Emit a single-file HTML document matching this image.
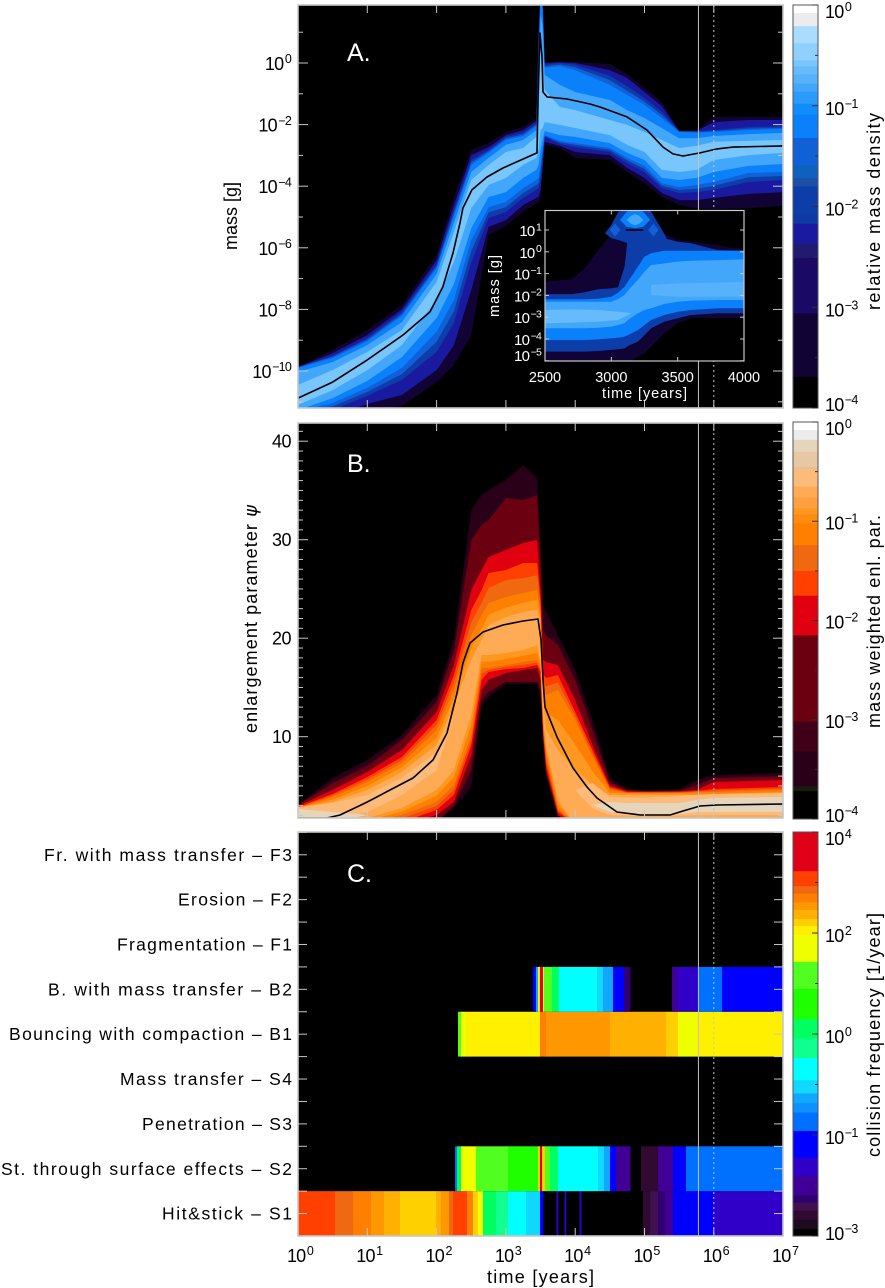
<!DOCTYPE html>
<html lang="en">
<head>
<meta charset="utf-8">
<title>Dust evolution panels</title>
<style>
html,body{margin:0;padding:0;background:#fff;}
svg{display:block;font-family:"Liberation Sans",sans-serif;}
</style>
</head>
<body>
<svg id="figure" xmlns="http://www.w3.org/2000/svg" width="885" height="1288" viewBox="0 0 885 1288">
  <defs>
    <clipPath id="clip-a"><rect x="298" y="5" width="485" height="403"/></clipPath>
    <clipPath id="clip-b"><rect x="298" y="423" width="485" height="395"/></clipPath>
    <clipPath id="clip-c"><rect x="298" y="832" width="485" height="404"/></clipPath>
    <clipPath id="clip-inset"><rect x="545" y="210.500" width="199" height="150.500"/></clipPath>
  </defs>
  <rect x="298" y="5" width="485" height="403" fill="#000"/>
  <rect x="298" y="423" width="485" height="395" fill="#000"/>
  <rect x="298" y="832" width="485" height="404" fill="#000"/>
  <g id="heat-a" clip-path="url(#clip-a)"></g>
  <g id="heat-b" clip-path="url(#clip-b)"></g>
  <g id="heat-c" clip-path="url(#clip-c)"></g>
  <g id="overlay"></g>
  <g id="inset"></g>
  <g id="bars"></g>
  <g id="labels" fill="#000"></g>

  <text x="347" y="61" font-size="25" fill="#fff">A.</text>
  <text x="347" y="472" font-size="25" fill="#fff">B.</text>
  <text x="347" y="882" font-size="25" fill="#fff">C.</text>

  <text font-size="18" transform="translate(237,250) rotate(-90)" textLength="68" lengthAdjust="spacing">mass [g]</text>
  <text font-size="18" transform="translate(257,733) rotate(-90)" textLength="228" lengthAdjust="spacing">enlargement parameter <tspan font-style="italic" font-family="'DejaVu Sans',sans-serif">ψ</tspan></text>
  <text font-size="18" x="487" y="1283" textLength="107" lengthAdjust="spacing">time [years]</text>

  <text font-size="18" transform="translate(880,310) rotate(-90)" textLength="197" lengthAdjust="spacing">relative mass density</text>
  <text font-size="18" transform="translate(880,728) rotate(-90)" textLength="213" lengthAdjust="spacing">mass weighted enl. par.</text>
  <text font-size="18" transform="translate(880,1157) rotate(-90)" textLength="244" lengthAdjust="spacing">collision frequency [1/year]</text>

  <text font-size="14.500" fill="#fff" x="602" y="398" textLength="85" lengthAdjust="spacing">time [years]</text>
  <text font-size="14.500" fill="#fff" transform="translate(499,317) rotate(-90)" textLength="62" lengthAdjust="spacing">mass [g]</text>
</svg>

<script>
// ---- shared time axis (log10 years) ----
const timeTickExponents = [0, 1, 2, 3, 4, 5, 6, 7];
const referenceTimesYears = [600000, 1000000];

// ---- panel A: mass (log10 g) ----
const massTickExponents = [0, -2, -4, -6, -8, -10];
const massMinorExponents = [1, -1, -3, -5, -7, -9, -11];
const massTimes = [0, .5, 1, 1.5, 2, 2.25, 2.5, 2.75, 3, 3.25, 3.44, 3.47, 3.5, 3.53, 3.56, 3.78, 4, 4.5, 4.75, 5, 5.25, 5.5, 5.75, 6, 6.5, 7];
const massLevelValues = [-3.4, -2.2, -1.9, -1.45, -1.2, -.8, -.6];
const massUpper0 = [-9.87, -9.32, -8.67, -7.86, -6.23, -4.35, -2.82, -2.6, -2.24, -2.08, -1.79, 1.07, 2.21, 2.21, .03, .03, .03, -.03, -.36, -.81, -1.27, -2.21, -2.21, -1.75, -1.75, -1.75];
const massUpper1 = [-9.87, -9.42, -8.83, -7.99, -6.4, -4.61, -2.99, -2.73, -2.34, -2.18, -1.88, .91, 2.21, 2.21, 0, .03, 0, -.23, -.49, -.94, -1.4, -2.21, -2.21, -1.92, -1.85, -1.85];
const massUpper2 = [-9.87, -9.51, -8.93, -8.08, -6.53, -4.77, -3.15, -2.82, -2.4, -2.27, -1.95, .75, 2.21, 2.21, -.06, 0, -.06, -.42, -.75, -1.14, -1.59, -2.21, -2.21, -2.18, -2.08, -2.05];
const massUpperMid = [-9.88, -9.54, -8.98, -8.15, -6.6, -4.87, -3.23, -2.87, -2.45, -2.32, -2, .4, 2.13, 1.96, -.11, -.05, -.14, -.56, -.9, -1.25, -1.69, -2.22, -2.24, -2.21, -2.13, -2.1];
const massUpper3 = [-9.9, -9.58, -9.03, -8.21, -6.66, -4.97, -3.31, -2.92, -2.5, -2.37, -2.05, .1, 2.05, 1.72, -.16, -.1, -.23, -.71, -1.04, -1.36, -1.79, -2.24, -2.27, -2.24, -2.18, -2.14];
const massUpper4 = [-10.03, -9.71, -9.16, -8.41, -6.85, -5.19, -3.54, -3.08, -2.66, -2.5, -2.18, -1.53, 1.56, 1.23, -.39, -.71, -.94, -1.2, -1.53, -1.79, -2.11, -2.44, -2.44, -2.37, -2.31, -2.27];
const massUpper5 = [-10.45, -9.97, -9.38, -8.67, -7.11, -5.49, -3.8, -3.31, -2.89, -2.76, -2.4, -1.85, 1.07, .1, -.88, -1.43, -1.53, -1.85, -2.01, -2.24, -2.5, -2.76, -2.69, -2.56, -2.53, -2.5];
const massLower5 = [-11.1, -10.62, -9.97, -9.16, -7.69, -6.46, -4.71, -3.96, -3.73, -3.31, -3.08, -2.82, -2.18, -2.11, -1.92, -2.01, -2.11, -2.34, -2.66, -2.89, -3.47, -3.54, -3.47, -3.15, -2.99, -2.92];
const massLower4 = [-11.27, -10.88, -10.32, -9.55, -8.28, -7.18, -5.36, -4.35, -4.19, -3.73, -3.47, -3.31, -2.82, -2.5, -2.21, -2.34, -2.4, -2.6, -2.92, -3.15, -3.73, -3.8, -3.73, -3.54, -3.34, -3.28];
const massLower3 = [-11.33, -11.04, -10.55, -9.9, -8.73, -7.69, -5.75, -4.68, -4.51, -4.06, -3.8, -3.73, -3.31, -2.82, -2.34, -2.53, -2.6, -2.76, -3.08, -3.34, -3.9, -4.03, -3.96, -3.86, -3.57, -3.54];
const massLowerMid = [-11.38, -11.15, -10.68, -10.1, -9.05, -8.06, -6.1, -4.85, -4.68, -4.22, -3.96, -3.9, -3.55, -2.98, -2.37, -2.58, -2.66, -2.82, -3.16, -3.44, -3.98, -4.12, -4.08, -3.99, -3.71, -3.67];
const massLower2 = [-11.43, -11.27, -10.81, -10.29, -9.38, -8.44, -6.46, -5.03, -4.84, -4.38, -4.12, -4.06, -3.8, -3.15, -2.4, -2.63, -2.73, -2.89, -3.25, -3.54, -4.06, -4.22, -4.19, -4.12, -3.86, -3.8];
const massLower1 = [-11.59, -11.46, -11.07, -10.78, -9.97, -9.16, -7.37, -5.32, -5.1, -4.61, -4.38, -4.35, -4.12, -3.41, -2.56, -2.69, -2.89, -2.99, -3.41, -3.73, -4.22, -4.45, -4.45, -4.38, -4.25, -4.19];
const massLower0 = [-11.92, -11.75, -11.27, -11.14, -10.36, -9.81, -8.83, -5.58, -5.29, -4.84, -4.55, -4.55, -4.29, -3.54, -2.66, -2.76, -3.08, -3.15, -3.54, -3.9, -4.35, -4.61, -4.71, -4.74, -4.71, -4.64];
const meanMassTimes = [0, .5, 1, 1.515, 1.905, 2.09, 2.237, 2.338, 2.38, 2.51, 2.727, 2.958, 3.449, 3.463, 3.492, 3.521, 3.535, 3.593, 3.882, 4.214, 4.358, 4.747, 5.036, 5.267, 5.411, 5.556, 5.801, 6.046, 6.277, 7];
const meanMassValues = [-10.88, -10.36, -9.64, -8.83, -8.08, -7.27, -6.17, -5.19, -4.71, -4.12, -3.7, -3.41, -2.92, -1.2, .97, .19, -.94, -1.1, -1.17, -1.33, -1.43, -1.75, -2.18, -2.73, -2.95, -3.02, -2.92, -2.79, -2.73, -2.69];

// ---- colorbar A ----
const densityEdges = [0, -.08, -.21, -.38, -.55, -.61, -.69, -.78, -.86, -.98, -1.09, -1.32, -1.59, -1.72, -1.8, -2.07, -2.17, -2.37, -2.51, -3.06, -3.69, -4];
const densityPalette = ['#ffffff', '#ececec', '#a9dcff', '#8fd0ff', '#79c6fd', '#66bcfb', '#58b1fb', '#42a7fb', '#2a9bfa', '#0f8dfb', '#0a80fb', '#1060d8', '#1060c0', '#1a50a8', '#0d3da8', '#0d3aa5', '#1a1aa0', '#201a70', '#1a0a65', '#120335', '#000000'];
const densityTickExponents = [0, -1, -2, -3, -4];
const densityMinorExponents = [-.5, -1.5, -2.5, -3.5];

// ---- inset (linear years, log10 g) ----
const insetXTicks = [2500, 3000, 3500, 4000];
const insetYTicks = [1, 0, -1, -2, -3, -4, -5];
const insetTimes = [2500, 2700, 2800, 2900, 3000, 3050, 3100, 3125, 3200, 3250, 3300, 3400, 3500, 3600, 3800, 4000];
const insetLevelValues = [-3.4, -1.9, -1.2, -.8];
const insetUpper0 = [-1.37, -1.26, -.76, .08, .77, .62, 1.08, 1.92, 1.92, 1.92, 1.61, .85, .54, .46, .31, .08];
const insetLower0 = [-5.1, -5.1, -5.1, -5.1, -5.1, -5.1, -5.1, -5.1, -4.81, -4.66, -4.35, -3.74, -3.28, -3.05, -3.05, -3.05];
const insetUpper1 = [-1.94, -1.94, -1.86, -1.72, -1.68, -1.63, -.68, .69, 1.76, 1.46, 1.46, .62, .46, .39, .08, .05];
const insetLower1 = [-4.58, -4.58, -4.58, -4.55, -4.5, -4.47, -4.43, -4.32, -4.12, -3.82, -3.51, -3.2, -3.05, -2.9, -2.82, -2.82];
const insetUpper2 = [-2.18, -2.18, -2.18, -2.15, -2.06, -1.87, -1.6, -1.37, -.68, -.22, -.07, .05, .05, .05, .05, .05];
const insetLower2 = [-4.05, -4.05, -4.05, -4.02, -3.97, -3.94, -3.89, -3.82, -3.59, -3.36, -3.13, -2.9, -2.75, -2.67, -2.59, -2.59];
const insetUpper3 = [-2.29, -2.29, -2.29, -2.29, -2.29, -2.17, -1.98, -1.78, -1.29, -.91, -.61, -.53, -.45, -.41, -.38, -.35];
const insetLower3 = [-3.51, -3.51, -3.51, -3.48, -3.43, -3.36, -3.28, -3.13, -2.82, -2.67, -2.59, -2.39, -2.29, -2.24, -2.21, -2.21];
const insetRidgeLeftTimes = [2500, 2700, 2900, 3050, 3150];
const insetRidgeLeftUpper = [-2.67, -2.64, -2.67, -2.75, -2.82];
const insetRidgeLeftLower = [-3.28, -3.25, -3.2, -3.13, -2.82];
const insetRidgeRightTimes = [3300, 3500, 3800, 4000];
const insetRidgeRightUpper = [-1.52, -1.45, -1.42, -1.37];
const insetRidgeRightLower = [-1.98, -2.06, -2.06, -2.06];
const insetHaloTimes = [2952, 3000, 3053, 3125, 3292, 3360, 3417];
const insetHaloUpper = [.85, 1.23, 1.84, 1.92, 1.92, 1.23, .62];
const insetHaloLower = [.85, .62, .54, .39, .39, .46, .62];
const insetCapTimes = [3065, 3116, 3178, 3241, 3292];
const insetCapUpper = [1.46, 1.84, 1.92, 1.84, 1.46];
const insetCapLower = [1.46, 1.15, 1.08, 1.15, 1.46];
const insetCoreTimes = [3116, 3150, 3178, 3210, 3241];
const insetCoreUpper = [1.46, 1.66, 1.73, 1.66, 1.46];
const insetCoreLower = [1.46, 1.28, 1.21, 1.28, 1.46];
const insetLobeLeftTimes = [2988, 3028, 3068];
const insetLobeLeftUpper = [1, 1.3, 1];
const insetLobeLeftLower = [1, .7, 1];
const insetLobeRightTimes = [3277, 3317, 3357];
const insetLobeRightUpper = [1, 1.3, 1];
const insetLobeRightLower = [1, .7, 1];
const insetMeanTimes = [3110, 3240];
const insetMeanValues = [1, 1];

// ---- panel B: enlargement parameter ----
const psiTicks = [10, 20, 30, 40];
const psiMinorTicks = [2, 3, 4, 5, 6, 7, 8, 9, 11, 12, 13, 14, 15, 16, 17, 18, 19, 21, 22, 23, 24, 25, 26, 27, 28, 29, 31, 32, 33, 34, 35, 36, 37, 38, 39, 41];
const psiTimes = [0, .5, 1, 1.5, 2, 2.25, 2.5, 2.65, 2.75, 3, 3.25, 3.45, 3.5, 3.54, 3.58, 3.75, 4, 4.25, 4.5, 4.75, 5, 5.5, 5.75, 6, 7];
const psiLevelValues = [-3.5, -2.5, -2, -1.6, -1.4, -1.1, -.9, -.7];
const psiUpper0 = [3.07, 5.81, 7.63, 10.17, 14.23, 19.82, 33.01, 34.54, 35.04, 36.06, 37.58, 36.26, 29.97, 23.37, 22.66, 20.32, 16.77, 11.7, 5.81, 4.69, 4.49, 4.59, 5.6, 6.11, 6.31];
const psiUpper1 = [3.07, 5.3, 7.03, 9.67, 13.52, 18.8, 29.97, 31.49, 32, 34.23, 34.03, 34.54, 27.94, 20.83, 20.32, 19.31, 15.76, 10.68, 5.4, 4.59, 4.49, 4.49, 5.1, 5.81, 6.01];
const psiUpper2 = [2.96, 4.59, 6.42, 8.65, 12.51, 17.28, 24.89, 26.92, 28.24, 28.95, 29.66, 29.97, 24.89, 17.79, 17.58, 17.28, 13.73, 9.16, 5.1, 4.49, 4.44, 4.49, 4.59, 5.4, 5.6];
const psiUpper3 = [2.86, 4.18, 5.91, 7.94, 11.7, 16.26, 22.86, 24.89, 26.62, 26.92, 27.63, 27.63, 23.88, 16.26, 15.96, 16.26, 12.51, 8.65, 4.89, 4.39, 4.39, 4.39, 4.49, 4.69, 4.89];
const psiUpperDeep = [2.81, 4.03, 5.65, 7.63, 11.2, 15.5, 21.6, 23.6, 25.1, 25.9, 26.1, 26.4, 23.3, 15.5, 15.1, 15.5, 12.1, 8.3, 4.74, 4.33, 4.33, 4.33, 4.44, 4.54, 4.74];
const psiUpper4 = [2.76, 3.88, 5.4, 7.33, 10.68, 14.74, 20.32, 22.35, 23.57, 24.18, 24.59, 24.89, 22.66, 14.74, 14.23, 14.74, 11.7, 7.94, 4.59, 4.28, 4.28, 4.28, 4.39, 4.39, 4.59];
const psiUpperWarm = [2.76, 3.6, 5, 6.9, 9.9, 14, 19, 21, 22.4, 23.1, 23.6, 23.9, 22, 14.2, 12.4, 11.7, 9.2, 6.5, 4.3, 4.2, 4.2, 4.2, 4.2, 4.2, 4.4];
const psiUpper5 = [2.76, 3.37, 4.59, 6.42, 9.16, 13.22, 17.79, 19.82, 21.34, 22.15, 22.66, 22.86, 21.34, 13.73, 10.68, 8.65, 6.62, 5.1, 4.08, 4.08, 4.08, 4.08, 4.08, 4.08, 4.28];
const psiUpperPale = [2.66, 2.36, 2.05, 3.57, 5.81, 9.67, 15.76, 18.8, 19.82, 20.32, 20.83, 21.34, 19.82, 12.71, 9.87, 6.11, 4.59, 3.07, 3.37, 3.27, 3.27, 3.27, 3.57, 3.78, 3.88];
const psiLowerPale = [1.04, 1.34, 2.05, 3.57, 5.81, 9.67, 15.76, 18.8, 19.82, 20.32, 20.83, 21.34, 19.82, 12.71, 9.87, 6.11, 4.59, 3.07, 2.36, 2.25, 2.15, 2.15, 2.36, 2.36, 2.36];
const psiLower5 = [.53, 1.04, 1.75, 2.76, 4.59, 6.62, 12.2, 18.29, 18.29, 18.5, 18.8, 19.31, 17.79, 11.7, 9.16, 3.57, 1.04, 1.04, 1.85, 1.85, 1.85, 1.85, 1.85, 1.85, 1.85];
const psiLowerWarm = [.53, 1.04, 1.5, 2.4, 4, 5.9, 11.2, 17.6, 17.6, 17.9, 18.2, 18.5, 17.4, 11.3, 8.6, 3.2, 1.04, 1.04, 1.8, 1.8, 1.8, 1.8, 1.8, 1.8, 1.8];
const psiLower4 = [.53, 1.04, 1.34, 2.05, 3.37, 5.1, 10.17, 16.97, 16.97, 17.28, 17.58, 17.79, 16.97, 10.88, 8.14, 2.76, 1.04, 1.04, 1.75, 1.75, 1.75, 1.75, 1.75, 1.75, 1.75];
const psiLowerDeep = [.53, 1.04, 1.19, 1.7, 2.96, 4.6, 9.66, 16.4, 16.8, 17.1, 17.3, 17.5, 16.8, 10.5, 7.6, 2.56, 1.04, 1.04, 1.4, 1.4, 1.4, 1.4, 1.4, 1.4, 1.4];
const psiLower3 = [.53, 1.04, 1.04, 1.34, 2.56, 4.08, 9.16, 15.76, 16.57, 16.87, 16.97, 17.28, 16.57, 10.17, 7.13, 2.36, 1.04, 1.04, 1.04, 1.04, 1.04, 1.04, 1.04, 1.04, 1.04];
const psiLower2 = [.53, 1.04, 1.04, 1.04, 2.05, 3.37, 8.14, 14.74, 15.76, 16.47, 16.77, 16.97, 15.76, 9.87, 6.62, 2.05, 1.04, 1.04, 1.04, 1.04, 1.04, 1.04, 1.04, 1.04, 1.04];
const psiLower1 = [.53, 1.04, 1.04, 1.04, 1.44, 2.96, 6.62, 13.73, 14.54, 15.55, 15.55, 15.55, 14.74, 9.46, 6.32, 1.95, 1.04, 1.04, 1.04, 1.04, 1.04, 1.04, 1.04, 1.04, 1.04];
const psiLower0 = [.53, 1.04, 1.04, 1.04, 1.24, 2.76, 4.89, 13.12, 14.03, 15.35, 15.35, 15.35, 14.23, 9.16, 6.11, 1.85, 1.04, 1.04, 1.04, 1.04, 1.04, 1.04, 1.04, 1.04, 1.04];
const psiPaleLevel = -.25;
const psiPeachLevel = -.55;
const psiPeachLeftTimes = [0, .5, 1, 1.5, 2, 2.25];
const psiPeachLeftUpper = [2.86, 3.27, 4.08, 5.81, 8.45, 12.2];
const psiPeachLeftLower = [1.55, 1.55, 2.36, 4.08, 6.62, 12.2];
const psiPeachRightTimes = [4, 4.25, 4.5, 5, 6, 7];
const psiPeachRightUpper = [4.59, 5.3, 3.88, 3.78, 4.18, 4.28];
const psiPeachRightLower = [4.59, 2.76, 2.05, 1.95, 2.05, 2.05];
const meanPsiTimes = [0, .418, .606, 1, 1.328, 1.659, 1.948, 2.15, 2.294, 2.381, 2.482, 2.67, 2.958, 3.247, 3.463, 3.506, 3.535, 3.564, 3.737, 3.968, 4.17, 4.315, 4.603, 4.935, 5.368, 5.556, 5.801, 6.046, 7];
const meanPsiValues = [1.75, 1.75, 2.05, 3.37, 4.59, 5.81, 7.63, 10.38, 14.44, 17.48, 19.51, 20.63, 21.34, 21.75, 21.95, 19.82, 15.76, 13.01, 9.97, 6.82, 4.89, 3.78, 2.36, 2.05, 2.05, 2.46, 2.96, 3.07, 3.17];

// ---- colorbar B ----
const enlEdges = [0, -.08, -.18, -.3, -.45, -.48, -.65, -.76, -.87, -.93, -1.02, -1.24, -1.5, -1.75, -2.15, -3.02, -3.32, -3.67, -3.72, -4];
const enlPalette = ['#ffffff', '#ececec', '#e5d5bb', '#e8c8a4', '#e8c090', '#fdbb7b', '#ffab55', '#ffa040', '#ff9820', '#ff8c10', '#ff8000', '#f06810', '#ff4000', '#e00010', '#6b0010', '#400018', '#2a0018', '#1a1a14', '#000000'];
const enlTickExponents = [0, -1, -2, -3, -4];
const enlMinorExponents = [-.5, -1.5, -2.5, -3.5];

// ---- panel C: collision types ----
const collisionLabels = ['Hit&stick – S1', 'St. through surface effects – S2', 'Penetration – S3', 'Mass transfer – S4', 'Bouncing with compaction – B1', 'B. with mass transfer – B2', 'Fragmentation – F1', 'Erosion – F2', 'Fr. with mass transfer – F3'];
const collisionLabelStarts = [162, 1, 142, 120, 9, 48, 117, 178, 44];
const hitStickBreaks = [0, .534, .794, 1.053, 1.241, 1.472, 1.991, 2.063, 2.179, 2.237, 2.439, 2.525, 2.597, 2.67, 2.857, 3.03, 3.29, 3.492, 3.535, 3.73, 3.752, 3.846, 3.867, 4.062, 4.084, 4.978, 5.08, 5.195, 5.296, 5.411, 5.988, 7];
const hitStickValues = [3.2, 3, 2.85, 2.7, 2.55, 2.43, 2.55, 2.7, 3, 3.2, 2.85, 2.43, 2, .6, .25, -.1, -.4, -1.4, null, -1.8, null, -1.8, null, -1.8, null, -2.65, -2.5, -2.35, -2.1, -1.4, -1.8];
const surfaceBreaks = [2.266, 2.294, 2.352, 2.569, 3.03, 3.463, 3.492, 3.521, 3.564, 3.636, 3.752, 4.329, 4.416, 4.502, 4.589, 4.791, 4.949, 5.195, 5.411, 5.599, 7];
const surfaceValues = [-1, .6, 2, 1.5, 1, 2.43, 3.6, 2.43, 1.5, .6, -.1, -.4, -.6, -1.4, -2.1, null, -2.65, -2.1, -1.4, -1];
const bouncingBreaks = [2.309, 2.352, 2.424, 3.492, 3.579, 4.502, 5.31, 5.483, 5.758, 7];
const bouncingValues = [1.5, 2, 2.3, 2.85, 2.7, 2.55, 2.43, 2, 2.3];
const bounceTransferBreaks = [3.391, 3.434, 3.463, 3.492, 3.535, 3.55, 3.665, 3.766, 4.315, 4.401, 4.545, 4.704, 4.791, 5.397, 5.483, 5.772, 6.118, 7];
const bounceTransferValues = [-1.4, -.6, 2.3, 3.6, 2.3, 1.5, .6, -.1, -.4, -.6, -1.4, -2.35, null, -2.1, -1.8, -1, -1.4];
const collisionRows = [
  [0, hitStickBreaks, hitStickValues],
  [1, surfaceBreaks, surfaceValues],
  [4, bouncingBreaks, bouncingValues],
  [5, bounceTransferBreaks, bounceTransferValues]
];

// ---- colorbar C ----
const freqEdges = [4, 3.32, 3.06, 2.93, 2.78, 2.65, 2.49, 2.37, 2.21, 1.75, 1.28, .76, .42, .08, -.3, -.53, -.7, -.86, -1.18, -1.65, -1.96, -2.29, -2.42, -2.56, -2.72, -2.88, -3];
const freqPalette = ['#e00018', '#ff4000', '#f06810', '#ff8000', '#ff9800', '#ffb000', '#ffd000', '#fff000', '#f0ff00', '#50ff20', '#20ff00', '#00ff60', '#10ff90', '#00ffff', '#10d8ff', '#10a8ff', '#0f90ff', '#0070ff', '#0000ff', '#3000c8', '#400098', '#300070', '#401050', '#300a30', '#1e0a1e', '#000000'];
const freqTickValues = [4, 2.25, .5, -1.25, -3];
const freqTickLabels = ['4', '2', '0', '−1', '−3'];
const freqMinorValues = [3.125, 1.375, -.375, -2.125];

// ---- axis functions ----
const xTime = t => 298 + 69.3 * t;
const yMass = m => 63 - 30.8 * m;
const yPsi = p => 736.7 - 9.85 * (p - 10);
const rowBottom = i => 1236 - 44.85 * i;
const xInset = t => 545 + (t - 2500) * 0.13267;
const yInset = m => 230 - 21.8 * (m - 1);
const yBarA = v => 5 - 100.75 * v;
const yBarB = v => 422 - 99.25 * v;
const yBarC = v => 832 + (4 - v) * 57.71;

const NS = 'http://www.w3.org/2000/svg';
function make(parent, tag, attrs) {
  const el = document.createElementNS(NS, tag);
  for (const k in attrs) el.setAttribute(k, attrs[k]);
  parent.appendChild(el);
  return el;
}
function lookup(edges, palette, v) {
  for (let i = 0; i < palette.length; i++) {
    if (v >= edges[i + 1]) return palette[i];
  }
  return palette[palette.length - 1];
}
function bandPoints(times, upper, lower, xf, yf) {
  const pts = [];
  times.forEach((t, i) => pts.push(xf(t).toFixed(1) + ',' + yf(upper[i]).toFixed(1)));
  for (let i = times.length - 1; i >= 0; i--) pts.push(xf(times[i]).toFixed(1) + ',' + yf(lower[i]).toFixed(1));
  return pts.join(' ');
}
function linePoints(times, values, xf, yf) {
  return times.map((t, i) => xf(t).toFixed(1) + ',' + yf(values[i]).toFixed(1)).join(' ');
}

const heatA = document.getElementById('heat-a');
const heatB = document.getElementById('heat-b');
const heatC = document.getElementById('heat-c');
const overlay = document.getElementById('overlay');
const insetGroup = document.getElementById('inset');
const bars = document.getElementById('bars');
const labels = document.getElementById('labels');

// ---- panel A contours ----
const massUppers = [massUpper0, massUpper1, massUpper2, massUpperMid, massUpper3, massUpper4, massUpper5];
const massLowers = [massLower0, massLower1, massLower2, massLowerMid, massLower3, massLower4, massLower5];
massLevelValues.forEach((lv, i) => {
  const el = make(heatA, 'polygon', {
    points: bandPoints(massTimes, massUppers[i], massLowers[i], xTime, yMass),
    fill: lookup(densityEdges, densityPalette, lv)
  });
  
  
});
const meanMassLine = make(heatA, 'polyline', {
  points: linePoints(meanMassTimes, meanMassValues, xTime, yMass),
  fill: 'none', stroke: '#000', 'stroke-width': 1.6, 'stroke-linejoin': 'round'
});



// ---- panel B contours ----
const psiUppers = [psiUpper0, psiUpper1, psiUpper2, psiUpper3, psiUpperDeep, psiUpper4, psiUpperWarm, psiUpper5];
const psiLowers = [psiLower0, psiLower1, psiLower2, psiLower3, psiLowerDeep, psiLower4, psiLowerWarm, psiLower5];
psiLevelValues.forEach((lv, i) => {
  const el = make(heatB, 'polygon', {
    points: bandPoints(psiTimes, psiUppers[i], psiLowers[i], xTime, yPsi),
    fill: lookup(enlEdges, enlPalette, lv)
  });
  
  
});
const peachLeft = make(heatB, 'polygon', {
  points: bandPoints(psiPeachLeftTimes, psiPeachLeftUpper, psiPeachLeftLower, xTime, yPsi),
  fill: lookup(enlEdges, enlPalette, psiPeachLevel)
});


const peachRight = make(heatB, 'polygon', {
  points: bandPoints(psiPeachRightTimes, psiPeachRightUpper, psiPeachRightLower, xTime, yPsi),
  fill: lookup(enlEdges, enlPalette, psiPeachLevel)
});


const paleBand = make(heatB, 'polygon', {
  points: bandPoints(psiTimes, psiUpperPale, psiLowerPale, xTime, yPsi),
  fill: lookup(enlEdges, enlPalette, psiPaleLevel)
});


const meanPsiLine = make(heatB, 'polyline', {
  points: linePoints(meanPsiTimes, meanPsiValues, xTime, yPsi),
  fill: 'none', stroke: '#000', 'stroke-width': 1.6, 'stroke-linejoin': 'round'
});



// ---- panel C cells ----
collisionRows.forEach(row => {
  const bottom = rowBottom(row[0]);
  const breaks = row[1];
  const values = row[2];
  values.forEach((v, i) => {
    if (v === null) return;
    const x0 = xTime(breaks[i]);
    const x1 = xTime(breaks[i + 1]);
    const cell = make(heatC, 'rect', {
      x: x0, y: bottom - 44.85, width: x1 - x0 + .4, height: 44.85,
      fill: lookup(freqEdges, freqPalette, v)
    });
    
    
  });
});

// ---- reference lines ----
[[423, 818], [5, 408], [832, 1236]].forEach(span => {
  referenceTimesYears.forEach((yr, i) => {
    const x = xTime(Math.log10(yr));
    const ln = make(overlay, 'line', {
      x1: x, x2: x, y1: span[0], y2: span[1],
      stroke: '#c4c4c4', 'stroke-width': 1, 'stroke-dasharray': i === 0 ? 'none' : '2 3'
    });
    
    
  });
});

// ---- frames and ticks ----
function tick(parent, x1, y1, x2, y2, color) {
  const t = make(parent, 'line', { x1: x1, y1: y1, x2: x2, y2: y2, stroke: color, 'stroke-width': 1 });
  
  
}
function frame(parent, x, y, w, h, color, sw) {
  const r = make(parent, 'rect', { x: x, y: y, width: w, height: h, fill: 'none', stroke: color, 'stroke-width': sw });
  
  
}
function powerLabel(parent, x, y, exp, anchor, size, supSize, color, name) {
  const t = make(parent, 'text', { x: x, y: y, 'text-anchor': anchor, 'font-size': size, fill: color, 'letter-spacing': -.8 });
  
  
  t.appendChild(document.createTextNode('10'));
  const s = make(t, 'tspan', { dy: -size * .38, 'font-size': supSize, dx: 1.5 });
  s.textContent = String(exp).replace('-', '−');
}
const GRID = '#c8c8c8';
[[5, 408], [423, 818], [832, 1236]].forEach(span => {
  frame(overlay, 298, span[0], 485, span[1] - span[0], GRID, 1.6);
  timeTickExponents.forEach(e => {
    const x = xTime(e);
    tick(overlay, x, span[0], x, span[0] + 8, GRID);
    tick(overlay, x, span[1], x, span[1] - 8, GRID);
  });
});
massTickExponents.forEach(e => {
  const y = yMass(e);
  tick(overlay, 298, y, 308, y, GRID);
  tick(overlay, 783, y, 773, y, GRID);
  powerLabel(labels, 291, y + 7, e, 'end', 18, 12.5, '#000', 'mass-tick-label');
});
massMinorExponents.forEach(e => {
  const y = yMass(e);
  tick(overlay, 298, y, 303, y, GRID);
  tick(overlay, 783, y, 778, y, GRID);
});
psiTicks.forEach(v => {
  const y = yPsi(v);
  tick(overlay, 298, y, 308, y, GRID);
  tick(overlay, 783, y, 773, y, GRID);
  const t = make(labels, 'text', { x: 291, y: y + 6.5, 'text-anchor': 'end', 'font-size': 18, 'letter-spacing': -.5 });
  
  
  t.textContent = String(v);
});
psiMinorTicks.forEach(v => {
  const y = yPsi(v);
  tick(overlay, 298, y, 303, y, GRID);
  tick(overlay, 783, y, 778, y, GRID);
});
for (let i = 0; i <= 18; i++) {
  const y = rowBottom(i / 2);
  tick(overlay, 298, y, 307, y, GRID);
  tick(overlay, 783, y, 774, y, GRID);
}
collisionLabels.forEach((txt, i) => {
  const start = collisionLabelStarts[i];
  const t = make(labels, 'text', { x: start, y: rowBottom(i) - 16.4, 'font-size': 17.5, textLength: 292 - start, lengthAdjust: 'spacing' });
  
  
  t.textContent = txt;
});
timeTickExponents.forEach(e => {
  powerLabel(labels, xTime(e) + 2, 1262, e, 'middle', 18, 12.5, '#000', 'time-tick-label');
});

// ---- colorbars ----
function colorbar(edges, palette, yf, top, bottom, name) {
  palette.forEach((c, i) => {
    const y0 = yf(edges[i]);
    const y1 = yf(edges[i + 1]);
    const r = make(bars, 'rect', { x: 793, y: y0, width: 25, height: y1 - y0 + .4, fill: c });
    
    
  });
  const outline = make(bars, 'rect', { x: 793, y: top, width: 25, height: bottom - top, fill: 'none', stroke: '#555', 'stroke-width': 1 });
  
  
}
colorbar(densityEdges, densityPalette, yBarA, 5, 408, 'colorbar-a');
colorbar(enlEdges, enlPalette, yBarB, 422, 819, 'colorbar-b');
colorbar(freqEdges, freqPalette, yBarC, 832, 1236, 'colorbar-c');

densityTickExponents.forEach(e => {
  const y = yBarA(e);
  tick(bars, 818, y, 812, y, '#333');
  powerLabel(labels, 825, e === 0 ? 18 : (e === -4 ? 411 : y + 9), e, 'start', 18, 12.5, '#000', 'colorbar-a-tick-label');
});
densityMinorExponents.forEach(e => { const y = yBarA(e); tick(bars, 818, y, 815, y, '#333'); });
enlTickExponents.forEach(e => {
  const y = yBarB(e);
  tick(bars, 818, y, 812, y, '#333');
  powerLabel(labels, 825, e === 0 ? 435 : (e === -4 ? 822 : y + 8), e, 'start', 18, 12.5, '#000', 'colorbar-b-tick-label');
});
enlMinorExponents.forEach(e => { const y = yBarB(e); tick(bars, 818, y, 815, y, '#333'); });
freqTickValues.forEach((v, i) => {
  const y = yBarC(v);
  tick(bars, 818, y, 812, y, '#333');
  const base = i === 0 ? 845 : (i === 4 ? 1240 : y + 9);
  powerLabel(labels, 825, base, freqTickLabels[i], 'start', 18, 12.5, '#000', 'colorbar-c-tick-label');
});
freqMinorValues.forEach(v => { const y = yBarC(v); tick(bars, 818, y, 815, y, '#333'); });

// ---- inset ----
const insetBg = make(insetGroup, 'rect', { x: 545, y: 210.5, width: 199, height: 150.5, fill: '#000' });


const insetClip = make(insetGroup, 'g', { 'clip-path': 'url(#clip-inset)' });


const insetUppers = [insetUpper0, insetUpper1, insetUpper2, insetUpper3];
const insetLowers = [insetLower0, insetLower1, insetLower2, insetLower3];
insetLevelValues.forEach((lv, i) => {
  const el = make(insetClip, 'polygon', {
    points: bandPoints(insetTimes, insetUppers[i], insetLowers[i], xInset, yInset),
    fill: lookup(densityEdges, densityPalette, lv)
  });
  
  
});
function insetShape(times, upper, lower, level, name) {
  const el = make(insetClip, 'polygon', {
    points: bandPoints(times, upper, lower, xInset, yInset),
    fill: lookup(densityEdges, densityPalette, level)
  });
  
  
}
insetShape(insetRidgeLeftTimes, insetRidgeLeftUpper, insetRidgeLeftLower, -.65, 'inset-ridge-left');
insetShape(insetRidgeRightTimes, insetRidgeRightUpper, insetRidgeRightLower, -.72, 'inset-ridge-right');
insetShape(insetHaloTimes, insetHaloUpper, insetHaloLower, -1.9, 'inset-top-halo');
insetShape(insetLobeLeftTimes, insetLobeLeftUpper, insetLobeLeftLower, -1.45, 'inset-left-lobe');
insetShape(insetLobeRightTimes, insetLobeRightUpper, insetLobeRightLower, -1.45, 'inset-right-lobe');
insetShape(insetCapTimes, insetCapUpper, insetCapLower, -1.2, 'inset-top-blob');
insetShape(insetCoreTimes, insetCoreUpper, insetCoreLower, -.8, 'inset-top-core');
const insetMean = make(insetClip, 'polyline', {
  points: linePoints(insetMeanTimes, insetMeanValues, xInset, yInset),
  fill: 'none', stroke: '#000', 'stroke-width': 1.5
});


frame(insetGroup, 545, 210.5, 199, 150.5, '#c8c8c8', 1.2);
insetXTicks.forEach(t => {
  const x = xInset(t);
  tick(insetGroup, x, 361, x, 357, '#c8c8c8');
  tick(insetGroup, x, 210.5, x, 214.5, '#c8c8c8');
  const lab = make(insetGroup, 'text', { x: x, y: 382, 'text-anchor': 'middle', 'font-size': 14.5, fill: '#fff' });
  
  
  lab.textContent = String(t);
});
insetYTicks.forEach(e => {
  const y = yInset(e);
  tick(insetGroup, 545, y, 549, y, '#c8c8c8');
  tick(insetGroup, 744, y, 740, y, '#c8c8c8');
  powerLabel(insetGroup, 541, e === -5 ? 361 : y + 6, e, 'end', 15, 10.5, '#fff', 'inset-mass-tick-label');
});
</script>
</body>
</html>
